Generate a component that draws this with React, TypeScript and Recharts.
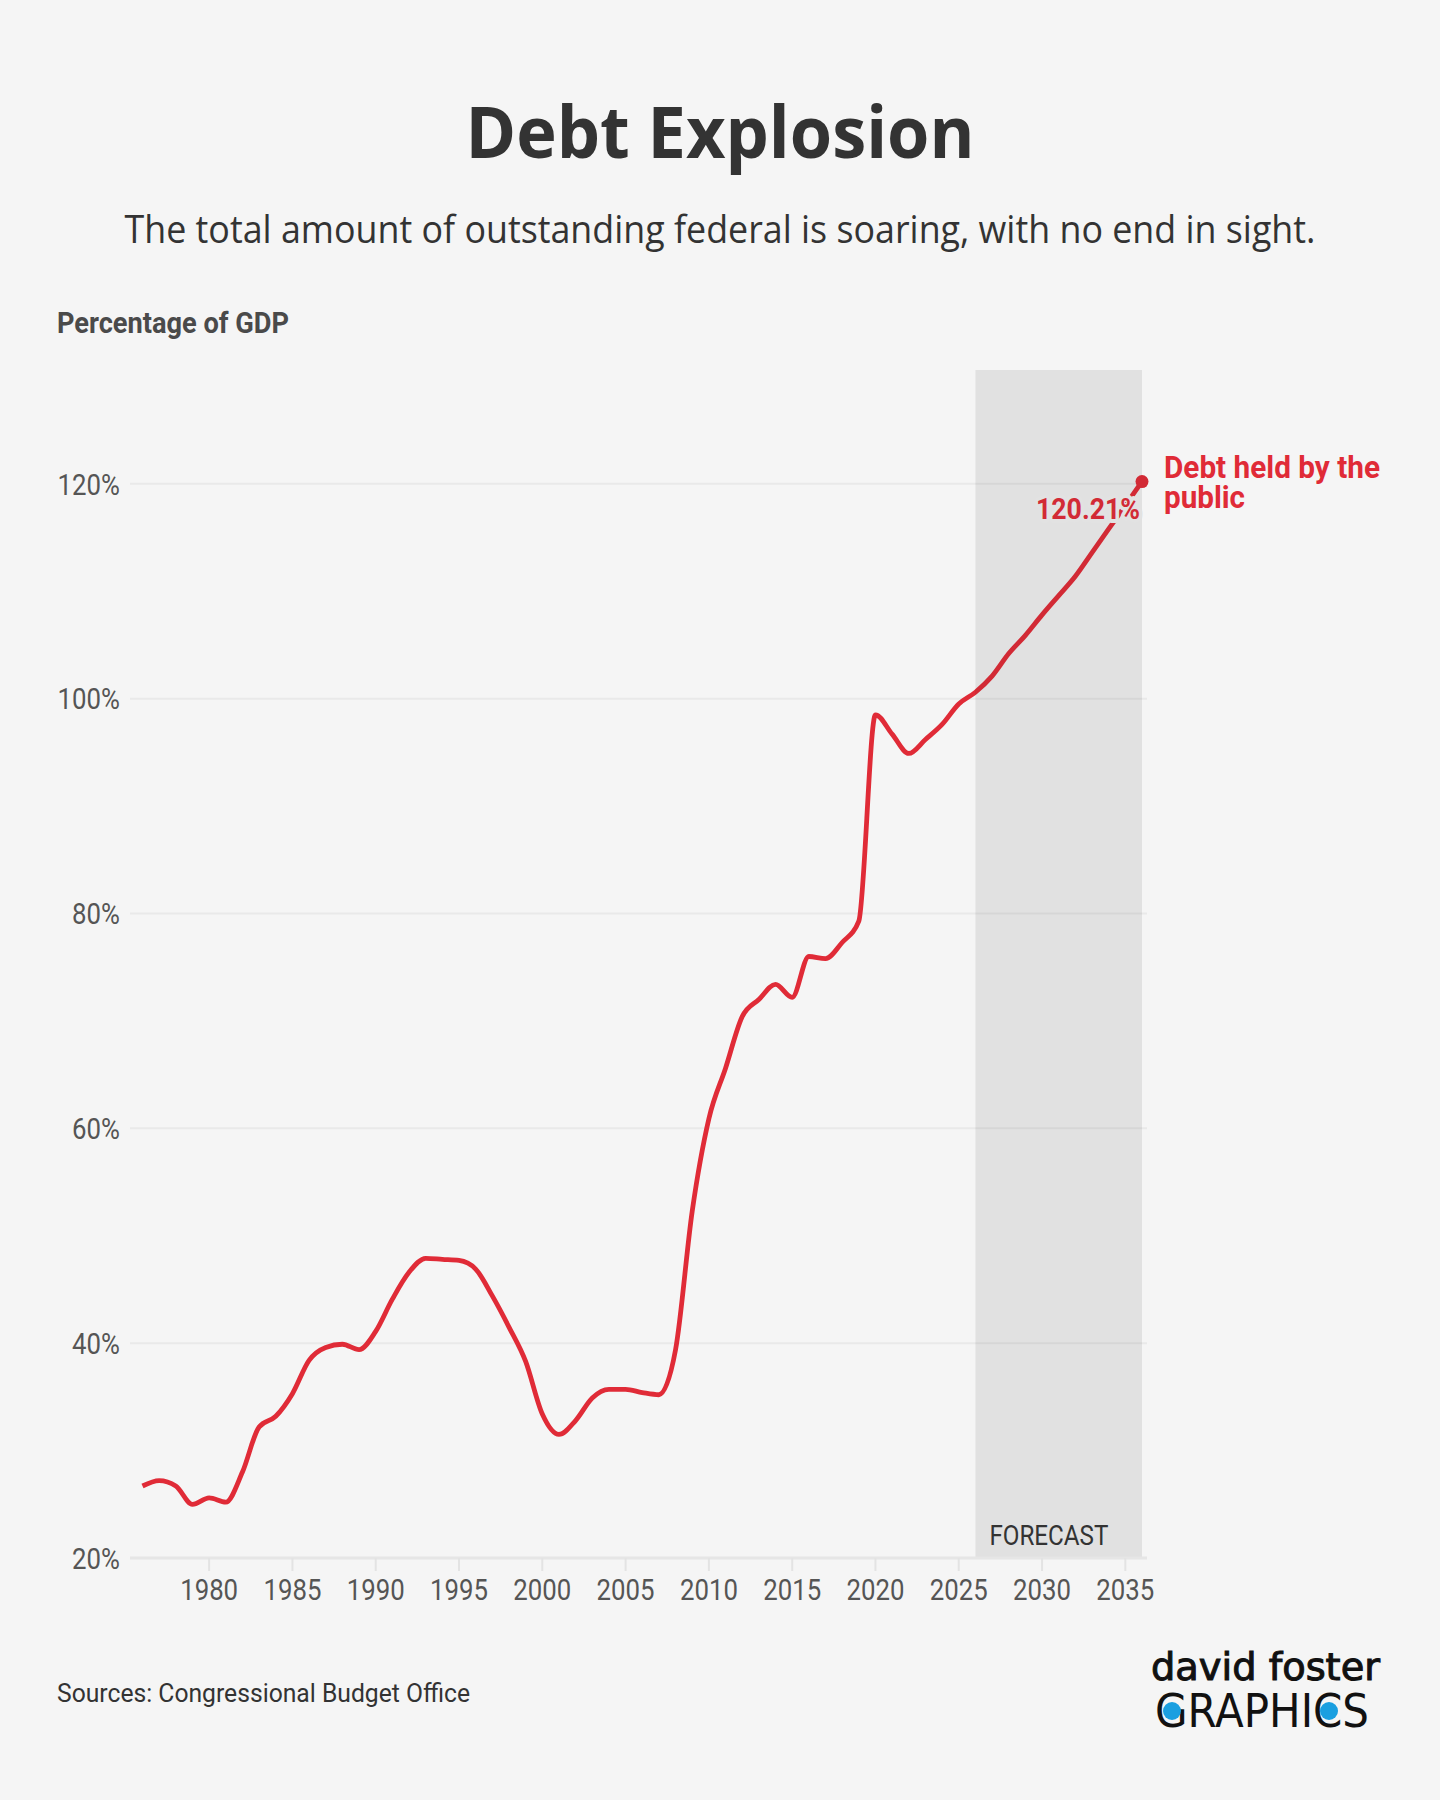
import React from 'react';
import { LineChart, Line, XAxis, YAxis, CartesianGrid, ReferenceArea } from 'recharts';

// Federal debt held by the public, % of GDP
const years = [
  1976, 1977, 1978, 1979, 1980, 1981, 1982, 1983, 1984, 1985,
  1986, 1987, 1988, 1989, 1990, 1991, 1992, 1993, 1994, 1995,
  1996, 1997, 1998, 1999, 2000, 2001, 2002, 2003, 2004, 2005,
  2006, 2007, 2008, 2009, 2010, 2011, 2012, 2013, 2014, 2015,
  2016, 2017, 2018, 2019, 2020, 2021, 2022, 2023, 2024, 2025,
  2026, 2027, 2028, 2029, 2030, 2031, 2032, 2033, 2034, 2035,
  2036,
];

const debtShare = [
  26.7, 27.2, 26.7, 25.0, 25.6, 25.2, 28.0, 32.2, 33.2, 35.3,
  38.4, 39.6, 39.9, 39.4, 41.1, 44.1, 46.6, 47.9, 47.8, 47.7,
  46.9, 44.4, 41.5, 38.3, 33.4, 31.5, 32.8, 34.9, 35.7, 35.7,
  35.4, 35.2, 39.4, 52.3, 60.9, 65.6, 70.4, 72.0, 73.4, 72.2,
  76.0, 75.8, 77.3, 79.3, 98.5, 96.7, 94.9, 96.2, 97.6, 99.5,
  100.6, 102.1, 104.2, 105.9, 107.8, 109.6, 111.4, 113.6, 115.8, 118.0,
  120.21,
];

const yTicks = [20, 40, 60, 80, 100, 120];
const xTicks = [1980, 1985, 1990, 1995, 2000, 2005, 2010, 2015, 2020, 2025, 2030, 2035];
const forecastStart = 2026;
const forecastEnd = 2036;

const data = years.map((year, i) => ({ year, debt: debtShare[i] }));

const RED = '#e02b37';
const RED_SHADED = '#d22a35';
const SHADE = '#e2e2e2';
const BG = '#f5f5f5';

// where the forecast band starts, as a fraction of the line's horizontal span
const forecastOffset = (forecastStart - years[0]) / (years[years.length - 1] - years[0]);

const YTick = (props: any) => {
  const { x, y, payload } = props;
  return (
    <g transform={`translate(${x},${y}) scale(0.86,1)`}>
      <text x={0} y={0} dy="0.355em" textAnchor="end" fontFamily="Roboto" fontSize={30} fill="#555">
        {`${payload.value}%`}
      </text>
    </g>
  );
};

const XTick = (props: any) => {
  const { x, y, payload } = props;
  return (
    <g transform={`translate(${x},${y + 29}) scale(0.86,1)`}>
      <text x={0} y={0} textAnchor="middle" fontFamily="Roboto" fontSize={30} fill="#555">
        {payload.value}
      </text>
    </g>
  );
};

const EndMarker = (props: any) => {
  const { cx, cy, index, payload } = props;
  if (index !== data.length - 1) return <g key={`dot-${index}`} />;
  return (
    <g key="dot-end">
      <circle cx={cx} cy={cy} r={6.5} fill={RED_SHADED} />
      <text
        x={cx - 2}
        y={cy + 37}
        textAnchor="end"
        fontFamily="Roboto"
        fontWeight={700}
        fontSize={30}
        textLength={104}
        lengthAdjust="spacingAndGlyphs"
        fill={RED_SHADED}
        stroke={SHADE}
        strokeWidth={8}
        strokeLinejoin="round"
        paintOrder="stroke"
      >
        {`${payload.debt.toFixed(2)}%`}
      </text>
      <text x={cx + 22} y={cy - 4} fontFamily="Roboto" fontWeight={700} fontSize={32} textLength={216} lengthAdjust="spacingAndGlyphs" fill={RED}>
        Debt held by the
      </text>
      <text x={cx + 22} y={cy + 26} fontFamily="Roboto" fontWeight={700} fontSize={32} textLength={81} lengthAdjust="spacingAndGlyphs" fill={RED}>
        public
      </text>
    </g>
  );
};

const ForecastLabel = (props: any) => {
  const { viewBox } = props;
  if (!viewBox) return null;
  return (
    <text
      x={viewBox.x + 14}
      y={viewBox.y + viewBox.height - 13}
      fontFamily="Roboto"
      fontSize={28}
      textLength={119}
      lengthAdjust="spacingAndGlyphs"
      fill="#333"
    >
      FORECAST
    </text>
  );
};

export default function App() {
  return (
    <div style={{ position: 'absolute', top: 0, left: 0, width: 1440, height: 1800, background: BG, overflow: 'hidden' }}>
      <svg width={1440} height={1800} style={{ position: 'absolute', top: 0, left: 0 }}>
        <text x={720} y={158} textAnchor="middle" fontFamily="Open Sans" fontWeight={700} fontSize={72} textLength={509} lengthAdjust="spacingAndGlyphs" fill="#333">
          Debt Explosion
        </text>
        <text x={720} y={243} textAnchor="middle" fontFamily="Open Sans" fontSize={38} textLength={1191} lengthAdjust="spacingAndGlyphs" fill="#333">
          The total amount of outstanding federal is soaring, with no end in sight.
        </text>
        <text x={57} y={333} fontFamily="Roboto" fontWeight={700} fontSize={30} textLength={232} lengthAdjust="spacingAndGlyphs" fill="#4a4a4a">
          Percentage of GDP
        </text>
        <text x={57} y={1702} fontFamily="Roboto" fontSize={26} textLength={413} lengthAdjust="spacingAndGlyphs" fill="#333">
          Sources: Congressional Budget Office
        </text>
        {/* logo */}
        <text x={1151} y={1680} fontFamily="DejaVu Sans" fontSize={37} textLength={229} lengthAdjust="spacingAndGlyphs" fill="#111" stroke="#111" strokeWidth={1}>
          david foster
        </text>
        <text x={1155} y={1727} fontFamily="DejaVu Sans" fontSize={46} textLength={214} lengthAdjust="spacingAndGlyphs" fill="#111">
          GRAPHICS
        </text>
        <circle cx={1172} cy={1711} r={9} fill="#1a9fe0" />
        <circle cx={1329} cy={1711} r={9} fill="#1a9fe0" />
      </svg>
      <div style={{ position: 'absolute', top: 0, left: 0 }}>
        <LineChart width={1440} height={1800} data={data} margin={{ top: 370, right: 293, bottom: 182, left: 10 }}>
          <defs>
            <linearGradient id="debtStroke" x1="0" y1="0" x2="1" y2="0">
              <stop offset={forecastOffset} stopColor={RED} />
              <stop offset={forecastOffset} stopColor={RED_SHADED} />
            </linearGradient>
          </defs>
          <CartesianGrid vertical={false} horizontalValues={yTicks} stroke="#e9e9e9" strokeWidth={2} />
          <XAxis
            type="number"
            dataKey="year"
            domain={[1975.25, 2036.3]}
            ticks={xTicks}
            height={60}
            tickSize={13}
            tickMargin={0}
            tickLine={{ stroke: '#e3e3e3', strokeWidth: 2 }}
            axisLine={{ stroke: '#e6e6e6', strokeWidth: 3 }}
            tick={<XTick />}
          />
          <YAxis
            type="number"
            domain={[20, 130.6]}
            ticks={yTicks}
            width={120}
            tickSize={0}
            tickMargin={10}
            axisLine={false}
            tickLine={false}
            tick={<YTick />}
          />
          <ReferenceArea
            x1={forecastStart}
            x2={forecastEnd}
            fill="#000"
            fillOpacity={0.078}
            stroke="none"
            label={<ForecastLabel />}
          />
          <Line
            type="monotone"
            dataKey="debt"
            stroke="url(#debtStroke)"
            strokeWidth={4.8}
            dot={EndMarker}
            activeDot={false}
            isAnimationActive={false}
          />
        </LineChart>
      </div>
    </div>
  );
}
